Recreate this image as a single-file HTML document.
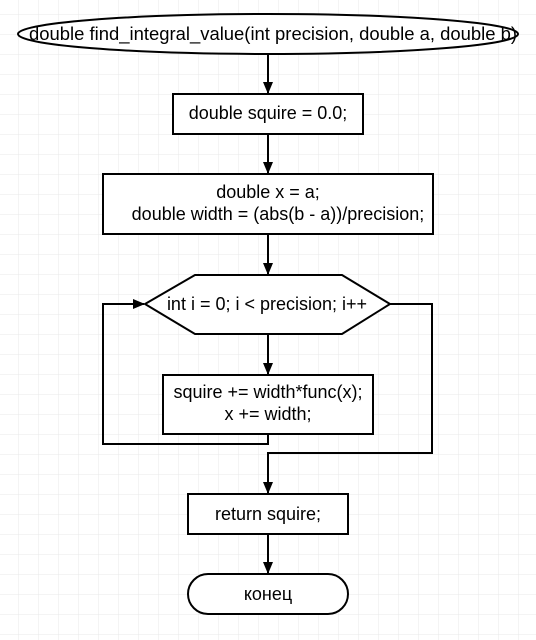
<!DOCTYPE html>
<html><head><style>body{margin:0;background:#fff}</style></head><body>
<svg width="536" height="640" xmlns="http://www.w3.org/2000/svg" style="display:block">
<defs>
<pattern id="g" x="18" y="14" width="20" height="20" patternUnits="userSpaceOnUse">
<path d="M0 0H20M0 0V20" stroke="#e8e8e8" stroke-width="1" fill="none"/>
</pattern>
<marker id="a" markerWidth="12" markerHeight="12" refX="11" refY="6" orient="auto" markerUnits="userSpaceOnUse">
<path d="M0 1L12 6L0 11Z" fill="#000"/>
</marker>
</defs>
<rect width="536" height="640" fill="url(#g)"/>
<g stroke="#000" stroke-width="2" fill="#fff">
<ellipse cx="268" cy="34" rx="250" ry="20"/>
<rect x="173" y="94" width="190" height="40"/>
<rect x="103" y="174" width="330" height="60"/>
<path d="M145 304L195 275L342 275L390 304L342 334L195 334Z"/>
<rect x="163" y="375" width="210" height="59"/>
<rect x="188" y="494" width="160" height="40"/>
<rect x="188" y="574" width="160" height="40" rx="20"/>
</g>
<g stroke="#000" stroke-width="2" fill="none">
<path d="M268 54V93" marker-end="url(#a)"/>
<path d="M268 134V173" marker-end="url(#a)"/>
<path d="M268 234V274" marker-end="url(#a)"/>
<path d="M268 334V374" marker-end="url(#a)"/>
<path d="M268 434V444H103V304H144" marker-end="url(#a)"/>
<path d="M390 304H432V453H268V493" marker-end="url(#a)"/>
<path d="M268 534V573" marker-end="url(#a)"/>
</g>
<g font-family="Liberation Sans, sans-serif" font-size="18" text-anchor="middle" fill="#000">
<text x="273" y="40" textLength="488" lengthAdjust="spacingAndGlyphs">double find_integral_value(int precision, double a, double b)</text>
<text x="268" y="119">double squire = 0.0;</text>
<text x="268" y="198">double x = a;</text>
<text x="278" y="220">double width = (abs(b - a))/precision;</text>
<text x="267" y="310">int i = 0; i &lt; precision; i++</text>
<text x="268" y="398">squire += width*func(x);</text>
<text x="268" y="420">x += width;</text>
<text x="268" y="520">return squire;</text>
<text x="268" y="600">конец</text>
</g>
</svg>
</body></html>
